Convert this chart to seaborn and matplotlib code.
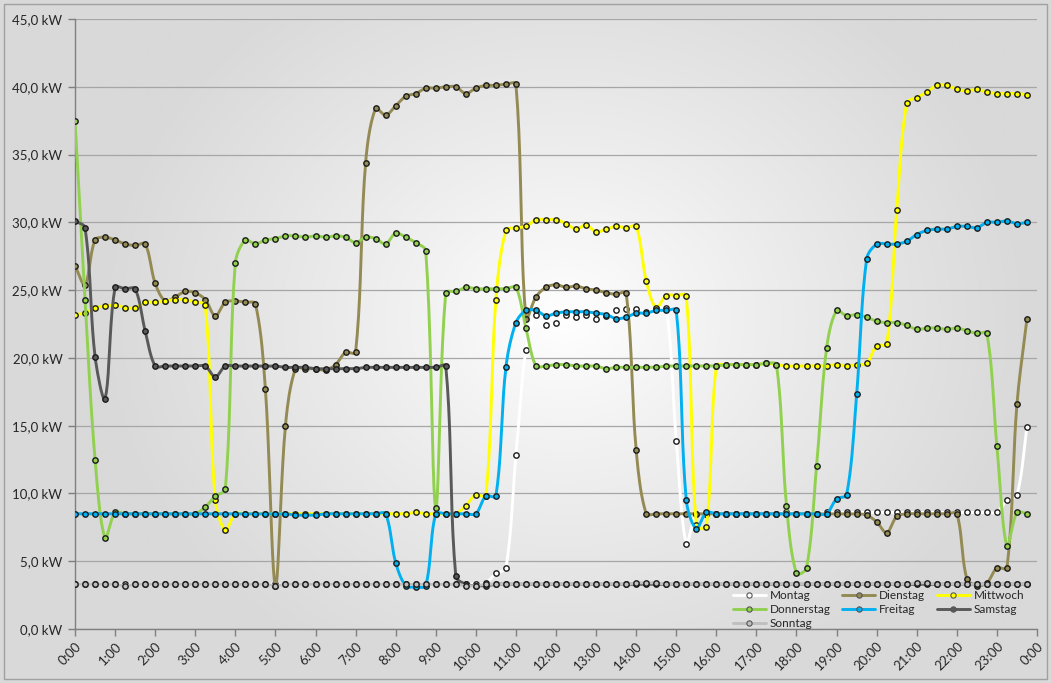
import numpy as np
import pandas as pd
import matplotlib
matplotlib.use("Agg")
import matplotlib.pyplot as plt
from matplotlib.lines import Line2D
from matplotlib.patches import Rectangle
import seaborn as sns

# Load per quarter hour (0:00 ... 23:45), in kW
montag = [
    3.3, 3.3, 3.3, 3.3, 3.3, 3.3, 3.3, 3.3, 3.3, 3.3, 3.3, 3.3,
    3.3, 3.3, 3.3, 3.3, 3.3, 3.3, 3.3, 3.3, 3.3, 3.3, 3.3, 3.3,
    3.3, 3.3, 3.3, 3.3, 3.3, 3.3, 3.3, 3.3, 3.3, 3.3, 3.3, 3.3,
    3.3, 3.3, 3.3, 3.3, 3.3, 3.4, 4.1, 4.5, 12.8, 20.6, 23.2, 22.4,
    22.6, 23.2, 23.0, 23.2, 22.9, 23.1, 23.5, 23.6, 23.6, 23.4, 23.6, 23.7,
    13.9, 6.3, 8.5, 8.5, 8.5, 8.5, 8.5, 8.5, 8.5, 8.5, 8.5, 8.6,
    8.5, 8.5, 8.5, 8.6, 8.6, 8.6, 8.6, 8.6, 8.6, 8.6, 8.6, 8.6,
    8.6, 8.6, 8.6, 8.6, 8.6, 8.6, 8.6, 8.6, 8.6, 9.5, 9.9, 14.9,
]
dienstag = [
    26.8, 25.4, 28.7, 28.9, 28.7, 28.4, 28.3, 28.4, 25.5, 24.2, 24.5, 24.9,
    24.8, 24.3, 23.1, 24.1, 24.2, 24.1, 24.0, 17.7, 3.2, 15.0, 19.2, 19.2,
    19.2, 19.1, 19.5, 20.4, 20.4, 34.4, 38.4, 37.9, 38.6, 39.3, 39.5, 39.9,
    39.9, 40.0, 40.0, 39.5, 39.9, 40.1, 40.1, 40.2, 40.2, 22.9, 24.5, 25.2,
    25.4, 25.2, 25.3, 25.1, 25.0, 24.8, 24.7, 24.8, 13.2, 8.5, 8.5, 8.5,
    8.5, 8.5, 8.5, 8.5, 8.5, 8.5, 8.5, 8.5, 8.5, 8.5, 8.5, 8.5,
    8.5, 8.5, 8.5, 8.5, 8.5, 8.5, 8.5, 8.4, 7.9, 7.1, 8.3, 8.5,
    8.5, 8.5, 8.5, 8.5, 8.5, 3.7, 3.2, 3.4, 4.5, 4.5, 16.6, 22.9,
]
mittwoch = [
    23.2, 23.3, 23.7, 23.8, 23.9, 23.7, 23.7, 24.1, 24.1, 24.2, 24.3, 24.3,
    24.1, 23.9, 9.5, 7.3, 8.5, 8.5, 8.5, 8.5, 8.5, 8.5, 8.5, 8.5,
    8.5, 8.5, 8.5, 8.5, 8.5, 8.5, 8.5, 8.5, 8.5, 8.5, 8.6, 8.5,
    8.5, 8.5, 8.5, 9.1, 9.9, 9.8, 24.3, 29.4, 29.6, 29.7, 30.2, 30.2,
    30.2, 29.9, 29.5, 29.8, 29.3, 29.5, 29.7, 29.6, 29.7, 25.7, 23.7, 24.6,
    24.6, 24.6, 7.7, 7.5, 19.4, 19.5, 19.5, 19.5, 19.5, 19.6, 19.5, 19.4,
    19.4, 19.4, 19.4, 19.4, 19.5, 19.4, 19.5, 19.6, 20.9, 21.0, 30.9, 38.8,
    39.2, 39.6, 40.1, 40.1, 39.8, 39.7, 39.8, 39.6, 39.5, 39.5, 39.5, 39.4,
]
donnerstag = [
    37.5, 24.3, 12.5, 6.7, 8.6, 8.5, 8.5, 8.5, 8.5, 8.5, 8.5, 8.5,
    8.5, 9.0, 9.8, 10.3, 27.0, 28.7, 28.4, 28.7, 28.8, 29.0, 29.0, 28.9,
    29.0, 28.9, 29.0, 28.9, 28.5, 28.9, 28.8, 28.4, 29.2, 28.9, 28.5, 27.9,
    8.9, 24.8, 24.9, 25.2, 25.1, 25.1, 25.1, 25.1, 25.2, 22.2, 19.4, 19.4,
    19.5, 19.5, 19.4, 19.4, 19.4, 19.2, 19.3, 19.3, 19.3, 19.3, 19.3, 19.4,
    19.4, 19.4, 19.4, 19.4, 19.4, 19.5, 19.5, 19.5, 19.5, 19.6, 19.5, 9.1,
    4.1, 4.5, 12.0, 20.7, 23.5, 23.1, 23.2, 23.0, 22.7, 22.6, 22.6, 22.4,
    22.1, 22.2, 22.2, 22.1, 22.2, 22.0, 21.8, 21.8, 13.5, 6.1, 8.6, 8.5,
]
freitag = [
    8.5, 8.5, 8.5, 8.5, 8.5, 8.5, 8.5, 8.5, 8.5, 8.5, 8.5, 8.5,
    8.5, 8.5, 8.5, 8.5, 8.5, 8.5, 8.5, 8.5, 8.5, 8.5, 8.4, 8.4,
    8.4, 8.5, 8.5, 8.5, 8.5, 8.5, 8.5, 8.5, 4.9, 3.2, 3.1, 3.2,
    8.5, 8.5, 8.5, 8.5, 8.5, 9.8, 9.8, 19.3, 22.6, 23.5, 23.5, 23.1,
    23.3, 23.4, 23.4, 23.4, 23.3, 23.2, 22.9, 23.0, 23.3, 23.3, 23.5, 23.5,
    23.5, 9.5, 7.4, 8.6, 8.5, 8.5, 8.5, 8.5, 8.5, 8.5, 8.5, 8.5,
    8.5, 8.5, 8.5, 8.5, 9.6, 9.9, 17.3, 27.3, 28.4, 28.4, 28.4, 28.6,
    29.1, 29.4, 29.5, 29.5, 29.7, 29.7, 29.6, 30.0, 30.0, 30.1, 29.9, 30.0,
]
samstag = [
    30.1, 29.6, 20.1, 17.0, 25.2, 25.1, 25.1, 22.0, 19.4, 19.4, 19.4, 19.4,
    19.4, 19.4, 18.6, 19.4, 19.4, 19.4, 19.4, 19.4, 19.4, 19.3, 19.3, 19.3,
    19.2, 19.2, 19.2, 19.2, 19.2, 19.3, 19.3, 19.3, 19.3, 19.3, 19.3, 19.3,
    19.3, 19.4, 3.9, 3.3, 3.2, 3.2, 3.3, 3.3, 3.3, 3.3, 3.3, 3.3,
    3.3, 3.3, 3.3, 3.3, 3.3, 3.3, 3.3, 3.3, 3.3, 3.3, 3.3, 3.3,
    3.3, 3.3, 3.3, 3.3, 3.3, 3.3, 3.3, 3.3, 3.3, 3.3, 3.3, 3.3,
    3.3, 3.3, 3.3, 3.3, 3.3, 3.3, 3.3, 3.3, 3.3, 3.3, 3.3, 3.3,
    3.3, 3.3, 3.3, 3.3, 3.3, 3.3, 3.3, 3.3, 3.3, 3.3, 3.3, 3.3,
]
sonntag = [
    3.3, 3.3, 3.3, 3.3, 3.3, 3.2, 3.3, 3.3, 3.3, 3.3, 3.3, 3.3,
    3.3, 3.3, 3.3, 3.3, 3.3, 3.3, 3.3, 3.3, 3.2, 3.3, 3.3, 3.3,
    3.3, 3.3, 3.3, 3.3, 3.3, 3.3, 3.3, 3.3, 3.3, 3.3, 3.3, 3.3,
    3.3, 3.3, 3.3, 3.2, 3.2, 3.3, 3.3, 3.3, 3.3, 3.3, 3.3, 3.3,
    3.3, 3.3, 3.3, 3.3, 3.3, 3.3, 3.3, 3.3, 3.4, 3.4, 3.4, 3.3,
    3.3, 3.3, 3.3, 3.3, 3.3, 3.3, 3.3, 3.3, 3.3, 3.3, 3.3, 3.3,
    3.3, 3.3, 3.3, 3.3, 3.3, 3.3, 3.3, 3.3, 3.3, 3.3, 3.3, 3.3,
    3.4, 3.4, 3.3, 3.3, 3.3, 3.3, 3.3, 3.3, 3.3, 3.3, 3.3, 3.3,
]

days = ["Montag", "Dienstag", "Mittwoch", "Donnerstag", "Freitag", "Samstag", "Sonntag"]
series = [montag, dienstag, mittwoch, donnerstag, freitag, samstag, sonntag]
day_colors = ["#FFFFFF", "#948A54", "#FFFF00", "#92D050", "#00B0F0", "#595959", "#BFBFBF"]

hour_labels = [f"{h}:00" for h in range(24)] + ["0:00"]
kw_ticks = [0, 5, 10, 15, 20, 25, 30, 35, 40, 45]

# long table: one row per day and quarter hour (time in hours)
quarter_hours = np.arange(96) / 4.0
frame = pd.DataFrame({
    "Stunde": np.tile(quarter_hours, len(days)),
    "Leistung": np.concatenate(series),
    "Tag": np.repeat(days, 96),
})

W, H = 1051, 683
left, right, top, bottom = 75, 1037, 19, 629
PX_PER_H = (right - left) / 24.0
PX_PER_KW = (bottom - top) / 45.0


def smooth_curve(x, y, steps=10):
    """Smoothed line: cubic Bezier segments whose control arms follow the
    neighbouring points, scaled by the on-screen segment lengths."""
    px = np.asarray(x, float) * PX_PER_H
    py = np.asarray(y, float) * PX_PER_KW
    n = len(px)
    P = np.column_stack([px, py])
    seg_len = np.hypot(np.diff(px), np.diff(py))
    out_arm = np.zeros_like(P)  # arm leaving point i
    in_arm = np.zeros_like(P)   # arm arriving at point i
    for i in range(n):
        prev_p = P[i - 1] if i > 0 else P[i]
        next_p = P[i + 1] if i < n - 1 else P[i]
        d = next_p - prev_p
        a = seg_len[i - 1] if i > 0 else 0.0
        b = seg_len[i] if i < n - 1 else 0.0
        tot = a + b if a + b > 0 else 1.0
        out_arm[i] = d * (b / tot) / 3.0
        in_arm[i] = d * (a / tot) / 3.0
    t = np.linspace(0, 1, steps, endpoint=False)[:, None]
    xs, ys = [], []
    for i in range(n - 1):
        p0, p3 = P[i], P[i + 1]
        c1, c2 = p0 + out_arm[i], p3 - in_arm[i + 1]
        b = ((1 - t) ** 3) * p0 + 3 * ((1 - t) ** 2) * t * c1 + 3 * (1 - t) * t ** 2 * c2 + t ** 3 * p3
        xs.append(b[:, 0])
        ys.append(b[:, 1])
    xs.append([P[-1, 0]])
    ys.append([P[-1, 1]])
    return np.concatenate(xs) / PX_PER_H, np.concatenate(ys) / PX_PER_KW


sns.set_theme(style="white")
plt.rcParams["font.family"] = ["Lato", "DejaVu Sans"]

fig = plt.figure(figsize=(W / 100, H / 100), dpi=100)
fig.patch.set_facecolor("#D9D9D9")

ax = fig.add_axes([left / W, 1 - bottom / H, (right - left) / W, (bottom - top) / H])
ax.set_facecolor("#D9D9D9")

# radial glow behind the plot area
gx = np.linspace(0, right - left, 480)
gy = np.linspace(0, bottom - top, 300)
GX, GY = np.meshgrid(gx, gy)
r = np.sqrt((GX - 490) ** 2 + ((GY - 300) / 0.85) ** 2)
tt = np.clip(r / 470.0, 0, 1)
shade = 1.0 - (1.0 - 217 / 255) * tt ** 0.9
glow = np.dstack([shade, shade, shade])
ax.imshow(glow, extent=[0, 1, 0, 1], transform=ax.transAxes, aspect="auto",
          zorder=0, interpolation="bilinear", origin="upper")

for k, (name, color) in enumerate(zip(days, day_colors)):
    sub = frame[frame["Tag"] == name]
    cx, cy = smooth_curve(sub["Stunde"].values, sub["Leistung"].values)
    sns.lineplot(x=cx, y=cy, color=color, linewidth=2.1, ax=ax, estimator=None,
                 sort=False, legend=False, zorder=3 + 2 * k)
    sns.scatterplot(data=sub, x="Stunde", y="Leistung", color=color, edgecolor="#1a1a1a",
                    linewidth=1.0, s=15, ax=ax, legend=False, zorder=4 + 2 * k)

ax.set_xlim(0, 24)
ax.set_ylim(0, 45)
ax.set_xticks(range(25))
ax.set_xticklabels(hour_labels, rotation=45, ha="right", rotation_mode="anchor",
                   fontsize=9.5, color="#262626")
ax.set_yticks(kw_ticks)
ax.set_yticklabels([f"{v:.1f}".replace(".", ",") + " kW" for v in kw_ticks],
                   fontsize=9.5, color="#262626")
ax.set_xlabel("")
ax.set_ylabel("")

ax.yaxis.grid(True, color="#A6A6A6", linewidth=0.9)
ax.xaxis.grid(False)
ax.set_axisbelow(True)
for side in ["top", "right"]:
    ax.spines[side].set_visible(False)
for side in ["left", "bottom"]:
    ax.spines[side].set_color("#7F7F7F")
    ax.spines[side].set_linewidth(1.0)
    ax.spines[side].set_zorder(2)
ax.tick_params(axis="x", which="major", direction="out", length=5, width=1.0,
               color="#7F7F7F", pad=3, bottom=True)
ax.tick_params(axis="y", which="major", direction="out", length=5, width=1.0,
               color="#7F7F7F", pad=4, left=True)

handles = [Line2D([], [], color=c, linewidth=2.1, marker="o", markersize=3.8,
                  markerfacecolor=c, markeredgecolor="#555555", markeredgewidth=0.8)
           for c in day_colors]
order = [0, 3, 6, 1, 4, 2, 5]
leg = fig.legend([handles[i] for i in order], [days[i] for i in order],
                 loc="upper left", bbox_to_anchor=(727 / W, 1 - 584 / H),
                 bbox_transform=fig.transFigure, ncol=3, frameon=False,
                 fontsize=8.5, handlelength=2.8, handletextpad=0.3,
                 columnspacing=1.0, labelspacing=0.25, borderpad=0.0,
                 numpoints=1)
for txt in leg.get_texts():
    txt.set_color("#262626")

fig.add_artist(Rectangle((4 / W, 4 / H), (W - 8) / W, (H - 8) / H, transform=fig.transFigure,
                         fill=False, edgecolor="#A0A0A0", linewidth=1.0))

fig.savefig("out.png", dpi=100, facecolor=fig.get_facecolor())
